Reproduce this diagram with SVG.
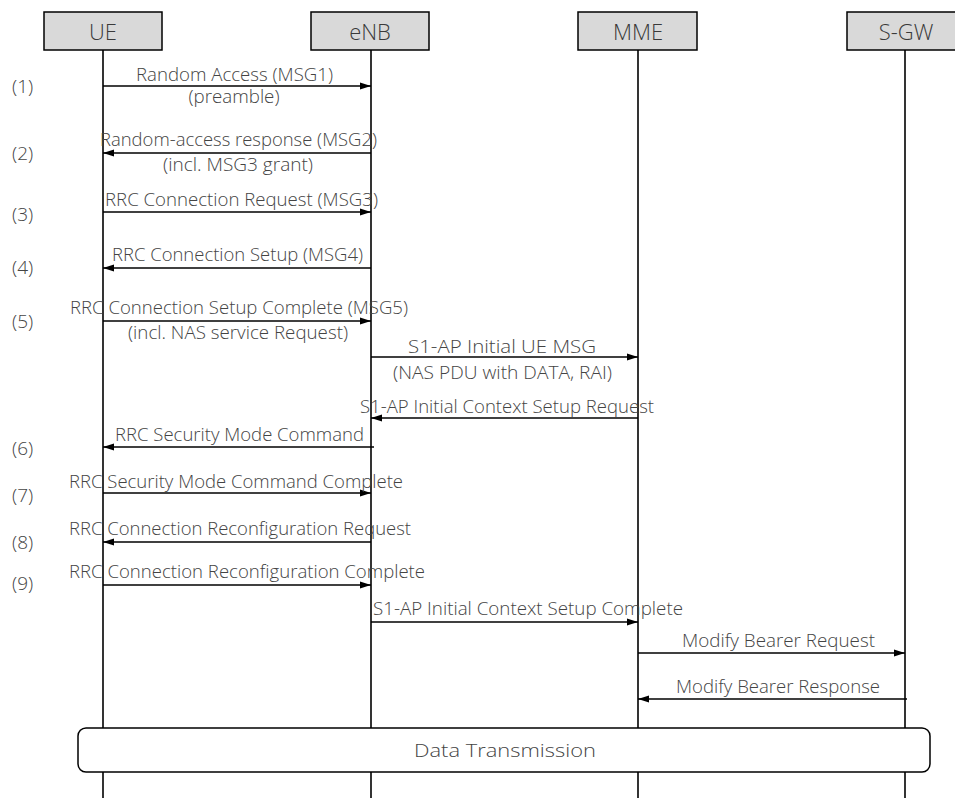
<svg xmlns="http://www.w3.org/2000/svg" width="955" height="798" viewBox="0 0 955 798">
<style>
.box{fill:#d9d9d9;stroke:#000;stroke-width:1.5}
.life{stroke:#000;stroke-width:1.6;fill:none}
.msg{stroke:#000;stroke-width:1.6;fill:none;marker-end:url(#ah)}
.t{font-family:"Open Sans","Noto Sans",sans-serif;font-size:18px;font-weight:300;fill:#444;text-anchor:middle}
.n{font-family:"Open Sans","Noto Sans",sans-serif;font-size:19px;font-weight:300;fill:#444}
.h{font-family:"Open Sans","Noto Sans",sans-serif;font-size:22px;font-weight:300;fill:#3a3a3a;text-anchor:middle}
.dt{fill:#fff;stroke:#000;stroke-width:1.5}
</style>
<defs>
<marker id="ah" markerUnits="userSpaceOnUse" markerWidth="12" markerHeight="8" refX="11" refY="4" orient="auto">
<path d="M0,0.5 L11,4 L0,7.5 z" fill="#000"/>
</marker>
</defs>
<rect width="955" height="798" fill="#fff"/>
<g id="lifelines">
<line class="life" x1="103" y1="50" x2="103" y2="798"/>
<line class="life" x1="371" y1="50" x2="371" y2="798"/>
<line class="life" x1="638" y1="50" x2="638" y2="798"/>
<line class="life" x1="905" y1="50" x2="905" y2="798"/>
</g>
<g id="UE"><rect class="box" x="44" y="12" width="118" height="38"/><text class="h" x="103" y="40">UE</text></g>
<g id="eNB"><rect class="box" x="311" y="12" width="118" height="38"/><text class="h" x="370" y="40">eNB</text></g>
<g id="MME"><rect class="box" x="578" y="12" width="119" height="38"/><text class="h" x="638" y="40">MME</text></g>
<g id="SGW"><rect class="box" x="847" y="12" width="118" height="38"/><text class="h" x="906" y="40">S-GW</text></g>
<g id="steps">
<text class="n" x="12" y="93">(1)</text>
<text class="n" x="12" y="160">(2)</text>
<text class="n" x="12" y="221">(3)</text>
<text class="n" x="12" y="274">(4)</text>
<text class="n" x="12" y="328">(5)</text>
<text class="n" x="12" y="455">(6)</text>
<text class="n" x="12" y="502">(7)</text>
<text class="n" x="12" y="549">(8)</text>
<text class="n" x="12" y="590">(9)</text>
</g>
<g id="connectors">
<line class="msg" x1="103" y1="86" x2="371" y2="86"/>
<line class="msg" x1="371" y1="153" x2="103" y2="153"/>
<line class="msg" x1="103" y1="212" x2="371" y2="212"/>
<line class="msg" x1="371" y1="268" x2="103" y2="268"/>
<line class="msg" x1="103" y1="321" x2="371" y2="321"/>
<line class="msg" x1="371" y1="357" x2="638" y2="357"/>
<line class="msg" x1="638" y1="418" x2="371" y2="418"/>
<line class="msg" x1="374" y1="447" x2="103" y2="447"/>
<line class="msg" x1="103" y1="493" x2="371" y2="493"/>
<line class="msg" x1="371" y1="542" x2="103" y2="542"/>
<line class="msg" x1="103" y1="585" x2="371" y2="585"/>
<line class="msg" x1="371" y1="622" x2="638" y2="622"/>
<line class="msg" x1="638" y1="653" x2="905" y2="653"/>
<line class="msg" x1="907" y1="699" x2="638" y2="699"/>
</g>
<g id="labels">
<text class="t" x="234.5" y="81" textLength="197" lengthAdjust="spacingAndGlyphs">Random Access (MSG1)</text>
<text class="t" x="234" y="103" textLength="91" lengthAdjust="spacingAndGlyphs">(preamble)</text>
<text class="t" x="238.5" y="146" textLength="277" lengthAdjust="spacingAndGlyphs">Random-access response (MSG2)</text>
<text class="t" x="238" y="171" textLength="150" lengthAdjust="spacingAndGlyphs">(incl. MSG3 grant)</text>
<text class="t" x="241.5" y="206" textLength="273" lengthAdjust="spacingAndGlyphs">RRC Connection Request (MSG3)</text>
<text class="t" x="237.5" y="261" textLength="251" lengthAdjust="spacingAndGlyphs">RRC Connection Setup (MSG4)</text>
<text class="t" x="239" y="314" textLength="338" lengthAdjust="spacingAndGlyphs">RRC Connection Setup Complete (MSG5)</text>
<text class="t" x="238" y="339" textLength="220" lengthAdjust="spacingAndGlyphs">(incl. NAS service Request)</text>
<text class="t" x="502" y="353" textLength="188" lengthAdjust="spacingAndGlyphs">S1-AP Initial UE MSG</text>
<text class="t" x="502.5" y="379" textLength="219" lengthAdjust="spacingAndGlyphs">(NAS PDU with DATA, RAI)</text>
<text class="t" x="507" y="413" textLength="294" lengthAdjust="spacingAndGlyphs">S1-AP Initial Context Setup Request</text>
<text class="t" x="239.5" y="441" textLength="249" lengthAdjust="spacingAndGlyphs">RRC Security Mode Command</text>
<text class="t" x="236" y="488" textLength="334" lengthAdjust="spacingAndGlyphs">RRC Security Mode Command Complete</text>
<text class="t" x="240" y="535" textLength="342" lengthAdjust="spacingAndGlyphs">RRC Connection Reconfiguration Request</text>
<text class="t" x="247" y="578" textLength="356" lengthAdjust="spacingAndGlyphs">RRC Connection Reconfiguration Complete</text>
<text class="t" x="528" y="615" textLength="310" lengthAdjust="spacingAndGlyphs">S1-AP Initial Context Setup Complete</text>
<text class="t" x="778.5" y="647" textLength="193" lengthAdjust="spacingAndGlyphs">Modify Bearer Request</text>
<text class="t" x="778" y="693" textLength="204" lengthAdjust="spacingAndGlyphs">Modify Bearer Response</text>
</g>
<g id="data-transmission">
<rect class="dt" x="78" y="728" width="852" height="44" rx="8" ry="8"/>
<text class="t" x="505" y="757" style="font-size:19px" textLength="182" lengthAdjust="spacingAndGlyphs">Data Transmission</text>
</g>
</svg>
